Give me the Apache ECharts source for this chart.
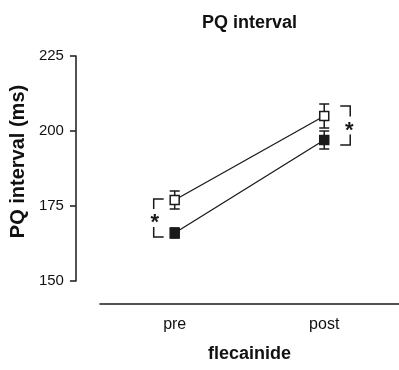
<!DOCTYPE html>
<html>
<head>
<meta charset="utf-8">
<script src="https://cdn.jsdelivr.net/npm/echarts@6/dist/echarts.min.js"></script>
<style>
  html, body { margin: 0; padding: 0; background: #fff; }
  #chart { width: 399px; height: 370px; }
</style>
</head>
<body>
<div id="chart"></div>
<script>
(function () {
    // data
    const groups = ['pre', 'post'];
    const openMean = [177, 205];
    const openSem = [3, 4];
    const filledMean = [166, 197];
    const filledSem = [1.7, 3];
    // significance brackets: [low, high] per group
    const sigLow = [164.7, 195.3];
    const sigHigh = [177.3, 208.3];
    const yTicks = [150, 175, 200, 225];

    const font = '"Liberation Sans", Arial, sans-serif';
    const ink = '#1a1a1a';

    function errData(mean, sem) {
        return mean.map(function (m, i) { return [i, m - sem[i], m + sem[i]]; });
    }

    function renderErr(params, api) {
        const x = api.value(0);
        const lo = api.coord([x, api.value(1)]);
        const hi = api.coord([x, api.value(2)]);
        const w = 5;
        const st = { stroke: ink, lineWidth: 1.5 };
        return {
            type: 'group',
            children: [
                { type: 'line', shape: { x1: lo[0], y1: lo[1], x2: hi[0], y2: hi[1] }, style: st },
                { type: 'line', shape: { x1: lo[0] - w, y1: lo[1], x2: lo[0] + w, y2: lo[1] }, style: st },
                { type: 'line', shape: { x1: hi[0] - w, y1: hi[1], x2: hi[0] + w, y2: hi[1] }, style: st }
            ]
        };
    }

    function renderBracket(params, api) {
        const i = api.value(0);
        const side = i === 0 ? -1 : 1;
        const gapX = i === 0 ? 21 : 26;
        const arm = 10;
        const lo = api.coord([i, api.value(1)]);
        const hi = api.coord([i, api.value(2)]);
        const bx = lo[0] + side * gapX;
        const ax = bx - side * arm;
        const mid = (lo[1] + hi[1]) / 2;
        const gap = 9;
        const st = { stroke: ink, lineWidth: 1.5, fill: null };
        return {
            type: 'group',
            children: [
                { type: 'polyline', shape: { points: [[ax, hi[1]], [bx, hi[1]], [bx, mid - gap]] }, style: st },
                { type: 'polyline', shape: { points: [[ax, lo[1]], [bx, lo[1]], [bx, mid + gap]] }, style: st },
                { type: 'text', style: { x: bx - side * 1, y: mid + 5, text: '*', fill: ink,
                    font: 'bold 22px ' + font, align: 'center', verticalAlign: 'middle' } }
            ]
        };
    }

    const option = {
        animation: false,
        backgroundColor: '#fff',
        title: {
            text: 'PQ interval',
            left: 197,
            top: 9,
            textStyle: { fontFamily: font, fontSize: 18, fontWeight: 'bold', color: '#111' }
        },
        grid: { left: 99, right: 0, top: 56, bottom: 89 },
        xAxis: {
            type: 'category',
            data: groups,
            offset: 23,
            name: 'flecainide',
            nameLocation: 'middle',
            nameGap: 41,
            nameTextStyle: { fontFamily: font, fontSize: 18, fontWeight: 'bold', color: '#111' },
            axisLine: { lineStyle: { color: ink, width: 1.5 } },
            axisTick: { alignWithLabel: true, length: 6, lineStyle: { color: ink, width: 1.5 } },
            axisLabel: { margin: 13, fontFamily: font, fontSize: 16, color: '#111' },
            splitLine: { show: false }
        },
        yAxis: {
            type: 'value',
            min: yTicks[0],
            max: yTicks[yTicks.length - 1],
            interval: 25,
            offset: 24,
            name: 'PQ interval (ms)',
            nameLocation: 'middle',
            nameGap: 46,
            nameTextStyle: { fontFamily: font, fontSize: 20, fontWeight: 'bold', color: '#111', padding: [0, 0, 0, 14] },
            axisLine: { show: true, lineStyle: { color: ink, width: 1.5 } },
            axisTick: { show: true, length: 6, lineStyle: { color: ink, width: 1.5 } },
            axisLabel: { margin: 12, fontFamily: font, fontSize: 15, color: '#111' },
            splitLine: { show: false }
        },
        series: [
            {
                type: 'custom', renderItem: renderErr, data: errData(openMean, openSem), z: 1, silent: true
            },
            {
                type: 'custom', renderItem: renderErr, data: errData(filledMean, filledSem), z: 1, silent: true
            },
            {
                name: 'open', type: 'line', data: openMean, z: 3,
                symbol: 'rect', symbolSize: 9,
                lineStyle: { color: ink, width: 1.3 },
                itemStyle: { color: '#fff', borderColor: ink, borderWidth: 1.5 }
            },
            {
                name: 'filled', type: 'line', data: filledMean, z: 3,
                symbol: 'rect', symbolSize: 9,
                lineStyle: { color: ink, width: 1.3 },
                itemStyle: { color: ink, borderColor: ink, borderWidth: 1.5 }
            },
            {
                type: 'custom', renderItem: renderBracket, z: 2, silent: true,
                data: groups.map(function (g, i) { return [i, sigLow[i], sigHigh[i]]; })
            }
        ]
    };

    const myChart = echarts.init(document.getElementById('chart'));
    myChart.setOption(option);
}());
</script>
</body>
</html>
